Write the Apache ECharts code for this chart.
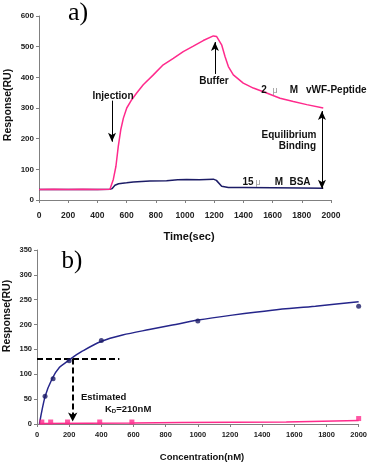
<!DOCTYPE html>
<html><head><meta charset="utf-8">
<script src="https://cdn.jsdelivr.net/npm/echarts@6/dist/echarts.min.js"></script>
<style>html,body{margin:0;padding:0;background:#fff}#c{width:370px;height:464px}</style>
</head><body><div id="c"></div>
<script>
// ---- Panel a): sensorgram (time in s, response in RU)
const peptideTime = [0,100,200,300,400,486,509,527,543,560,578,601,635,669,714,783,851,920,988,1057,1125,1194,1217,1251,1274,1297,1331,1399,1468,1559,1651,1742,1834,1947];
const peptideResp = [34,35,34,35,34,35,67,110,175,229,267,300,327,349,376,408,441,462,484,502,520,535,533,506,468,435,408,381,365,349,332,321,311,300];
const bsaTime = [0,200,400,486,500,520,545,600,646,760,874,950,1011,1100,1194,1215,1251,1297,1400,1600,1800,1947];
const bsaResp = [34,34,34,35,37,48,53,56,59,62,63,66,67,66,68,64,45,41,41,40,39,38];

// ---- Panel b): equilibrium binding (concentration nM, response RU)
const bindConc = [50,100,200,400,1000,2000];
const bindResp = [56,91,127,168,207,237];
const fitConc = [15,51,94,140,193,222,284,398,532,698,842,1001,1214,1462,1731,2000];
const fitResp = [0,56,91,114,127,134,147,166,179,190,199,209,219,229,237,246];
const ctrlConc = [30,85,190,390,590,2000];
const ctrlResp = [4,4,4,4,4,11];
const ctrlFitConc = [15,600,900,1550,1560,2000];
const ctrlFitResp = [1,2,3,4,6,7];

const topYTicks = [0,100,200,300,400,500,600];
const botYTicks = [0,50,100,150,200,250,300,350];
const xTicks = [0,200,400,600,800,1000,1200,1400,1600,1800,2000];

const zip = (a, b) => a.map((v, i) => [v, b[i]]);
const PINK = '#ff2a8c', NAVY = '#1c1c66', NAVY2 = '#25258a';
const FONT = 'Liberation Sans, Arial, sans-serif';
const SERIF = 'Liberation Serif, Times New Roman, serif';
const plain = v => String(v);

const axisCommon = {
  type: 'value', splitLine: {show: false},
  axisLine: {show: true, lineStyle: {color: '#808080', width: 1}},
  axisTick: {show: true, length: 3, lineStyle: {color: '#808080'}}
};

function txt(x, y, text, o) {
  o = o || {};
  return {type: 'text', x: x, y: y, rotation: o.rot || 0, z: 100,
    style: {text: text, fill: o.color || '#111', font: (o.weight || 'bold') + ' ' + (o.size || 10) + 'px ' + (o.family || FONT),
      textAlign: o.align || 'center', textVerticalAlign: 'middle', rich: o.rich}};
}

const chart = echarts.init(document.getElementById('c'), null, {renderer: 'canvas'});
chart.setOption({
  animation: false,
  backgroundColor: '#fff',
  grid: [
    {left: 39, right: 39, top: 16, height: 184},
    {left: 37, right: 10, top: 250, height: 174}
  ],
  xAxis: [
    Object.assign({}, axisCommon, {gridIndex: 0, min: xTicks[0], max: xTicks[xTicks.length-1], interval: 200,
      axisLabel: {margin: 11, fontSize: 8.5, fontWeight: 'bold', color: '#222', fontFamily: FONT, formatter: plain}}),
    Object.assign({}, axisCommon, {gridIndex: 1, min: xTicks[0], max: xTicks[xTicks.length-1], interval: 200,
      axisLabel: {margin: 7, fontSize: 7.5, fontWeight: 'bold', color: '#222', fontFamily: FONT, formatter: plain}})
  ],
  yAxis: [
    Object.assign({}, axisCommon, {gridIndex: 0, min: topYTicks[0], max: topYTicks[topYTicks.length-1], interval: 100,
      axisLabel: {margin: 5, fontSize: 8, fontWeight: 'bold', color: '#222', fontFamily: FONT, formatter: plain}}),
    Object.assign({}, axisCommon, {gridIndex: 1, min: botYTicks[0], max: botYTicks[botYTicks.length-1], interval: 50,
      axisLabel: {margin: 5, fontSize: 7.5, fontWeight: 'bold', color: '#222', fontFamily: FONT, formatter: plain}})
  ],
  series: [
    {type: 'line', xAxisIndex: 0, yAxisIndex: 0, data: zip(peptideTime, peptideResp), showSymbol: false,
      lineStyle: {color: PINK, width: 1.5}, z: 3,
      markLine: {silent: true, symbolSize: [6, 9], label: {show: false}, lineStyle: {color: '#000', width: 1, type: 'solid'},
        data: [
          [{coord: [500, 324], symbol: 'none'}, {coord: [500, 190], symbol: 'arrow'}],
          [{coord: [1205, 411], symbol: 'none'}, {coord: [1205, 515], symbol: 'arrow'}],
          [{coord: [1938, 290], symbol: 'arrow'}, {coord: [1938, 37], symbol: 'arrow'}]
        ]}},
    {type: 'line', xAxisIndex: 0, yAxisIndex: 0, data: zip(bsaTime, bsaResp), showSymbol: false,
      lineStyle: {color: NAVY, width: 1.5}, z: 2},
    {type: 'line', xAxisIndex: 1, yAxisIndex: 1, data: zip(ctrlFitConc, ctrlFitResp), showSymbol: false,
      lineStyle: {color: PINK, width: 1.5}, z: 2},
    {type: 'line', xAxisIndex: 1, yAxisIndex: 1, data: zip(fitConc, fitResp), showSymbol: false, smooth: 0.3,
      lineStyle: {color: NAVY2, width: 1.5}, z: 3,
      markLine: {silent: true, symbolSize: [7, 9], label: {show: false}, lineStyle: {color: '#000', width: 2, type: [6, 3]},
        data: [
          [{coord: [0, 132], symbol: 'none'}, {coord: [512, 132], symbol: 'none'}],
          [{coord: [222, 132], symbol: 'none'}, {coord: [222, 5], symbol: 'arrow'}]
        ]}},
    {type: 'scatter', xAxisIndex: 1, yAxisIndex: 1, data: zip(bindConc, bindResp), symbol: 'circle', symbolSize: 5,
      itemStyle: {color: NAVY}, z: 5},
    {type: 'scatter', xAxisIndex: 1, yAxisIndex: 1, data: zip(ctrlConc, ctrlResp), symbol: 'rect', symbolSize: 5,
      itemStyle: {color: PINK}, z: 5}
  ],
  graphic: [
    txt(78, 13, 'a)', {size: 26, weight: 'normal', family: SERIF, color: '#000'}),
    txt(113, 96, 'Injection'),
    txt(214, 81, 'Buffer'),
    txt(264, 90, '2'),
    txt(275, 91, 'μ', {weight: 'normal', color: '#999', size: 9}),
    txt(294, 90, 'M'),
    txt(306, 90, 'vWF-Peptide', {align: 'left'}),
    txt(289, 135, 'Equilibrium'),
    txt(316, 146, 'Binding', {align: 'right'}),
    txt(248, 182, '15'),
    txt(258, 183, 'μ', {weight: 'normal', color: '#999', size: 9}),
    txt(279, 182, 'M'),
    txt(300, 182, 'BSA'),
    txt(189, 237, 'Time(sec)', {size: 11}),
    txt(8, 105, 'Response(RU)', {size: 10.5, rot: Math.PI / 2}),
    txt(72, 261, 'b)', {size: 25, weight: 'normal', family: SERIF, color: '#000'}),
    txt(7, 316, 'Response(RU)', {size: 10.5, rot: Math.PI / 2}),
    txt(81, 397, 'Estimated', {align: 'left', size: 9.5}),
    txt(105, 409, '{a|K}{s|D}{a|=210nM}', {align: 'left', size: 9.5,
      rich: {a: {fontSize: 9.5, fontWeight: 'bold', fontFamily: FONT, fill: '#111', color: '#111'},
             s: {fontSize: 6, fontWeight: 'bold', fontFamily: FONT, fill: '#111', color: '#111', verticalAlign: 'bottom', padding: [3, 0, 0, 0]}}}),
    txt(202, 457, 'Concentration(nM)', {size: 9.5})
  ]
});
</script></body></html>
